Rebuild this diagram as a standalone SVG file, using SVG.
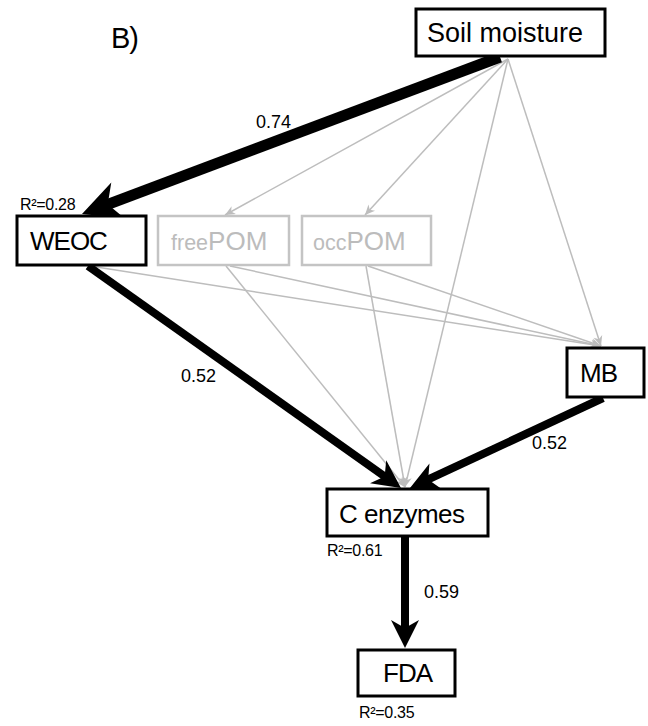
<svg xmlns="http://www.w3.org/2000/svg" width="648" height="726" viewBox="0 0 648 726">
<defs>
<style>
text{font-family:"Liberation Sans",Arial,sans-serif;}
.box{fill:#fff;stroke:#000;stroke-width:3;}
.gbox{fill:#fff;stroke:#c4c4c4;stroke-width:2.5;}
.lbl{font-size:26px;fill:#000;}
.glbl{fill:#bcbcbc;}
.num{font-size:18px;fill:#000;}
.r2{font-size:16px;fill:#000;letter-spacing:-0.3px;}
.thick{stroke:#000;fill:none;marker-end:url(#bigArrow);}
.thin{stroke:#bdbdbd;stroke-width:1.5;fill:none;marker-end:url(#smallArrow);}
</style>
<marker id="bigArrow" viewBox="-3.7 -1.9 3.8 3.8" refX="-2" refY="0" markerWidth="3.8" markerHeight="3.8" orient="auto">
<path d="M0,0 L-3.5,-1.75 L-2.5,0 L-3.5,1.75 Z" fill="#000"/>
</marker>
<marker id="smallArrow" markerUnits="userSpaceOnUse" viewBox="-11 -6 12 12" refX="0" refY="0" markerWidth="12" markerHeight="12" orient="auto">
<path d="M0,0 L-10,-4.5 L-7,0 L-10,4.5 Z" fill="#bdbdbd"/>
</marker>
</defs>
<rect width="648" height="726" fill="#fff"/>
<text x="111" y="48" style="font-size:29px;letter-spacing:-1px">B)</text>
<g id="connectors">
<line class="thin" x1="508" y1="59" x2="225" y2="215"/>
<line class="thin" x1="508" y1="59" x2="365" y2="215"/>
<line class="thin" x1="508" y1="59" x2="405" y2="487"/>
<line class="thin" x1="508" y1="59" x2="601" y2="346"/>
<line class="thin" x1="90" y1="266" x2="601" y2="346"/>
<line class="thin" x1="230" y1="266" x2="601" y2="346"/>
<line class="thin" x1="368" y1="266" x2="601" y2="346"/>
<line class="thin" x1="226" y1="266" x2="405" y2="487"/>
<line class="thin" x1="366" y1="266" x2="405" y2="487"/>
<line class="thick" style="stroke-width:11" x1="500" y1="57" x2="102.6" y2="206.3"/>
<line class="thick" style="stroke-width:8" x1="88" y1="266" x2="387.9" y2="478.7"/>
<line class="thick" style="stroke-width:8" x1="603" y1="398" x2="424.5" y2="481.2"/>
<line class="thick" style="stroke-width:8" x1="405" y1="537" x2="405" y2="632"/>
<text class="num" x="256" y="128">0.74</text>
<text class="num" x="181" y="382">0.52</text>
<text class="num" x="532" y="449">0.52</text>
<text class="num" x="424" y="598">0.59</text>
</g>
<g id="soil">
<rect class="box" x="416" y="9" width="189" height="47"/>
<text class="lbl" x="427" y="42" style="font-size:27px">Soil moisture</text>
</g>
<g id="weoc">
<rect class="box" x="17" y="216" width="129" height="49"/>
<text class="lbl" x="30" y="250" style="letter-spacing:-1px">WEOC</text>
<text class="r2" x="20" y="210">R²=0.28</text>
</g>
<g id="freepom">
<rect class="gbox" x="158" y="216" width="131" height="49"/>
<text class="glbl" x="171" y="250"><tspan style="font-size:21.5px">free</tspan><tspan style="font-size:26px">POM</tspan></text>
</g>
<g id="occpom">
<rect class="gbox" x="302" y="216" width="129" height="49"/>
<text class="glbl" x="313" y="250"><tspan style="font-size:21.5px">occ</tspan><tspan style="font-size:26px">POM</tspan></text>
</g>
<g id="mb">
<rect class="box" x="567" y="348" width="77" height="49"/>
<text class="lbl" x="580" y="382" style="letter-spacing:-1px">MB</text>
</g>
<g id="cenzymes">
<rect class="box" x="327" y="489" width="161" height="47"/>
<text class="lbl" x="339" y="523" style="letter-spacing:-0.5px">C enzymes</text>
<text class="r2" x="327" y="556">R²=0.61</text>
</g>
<g id="fda">
<rect class="box" x="358" y="650" width="97" height="46"/>
<text class="lbl" x="383" y="682" style="letter-spacing:-1px">FDA</text>
<text class="r2" x="359" y="718">R²=0.35</text>
</g>
</svg>
